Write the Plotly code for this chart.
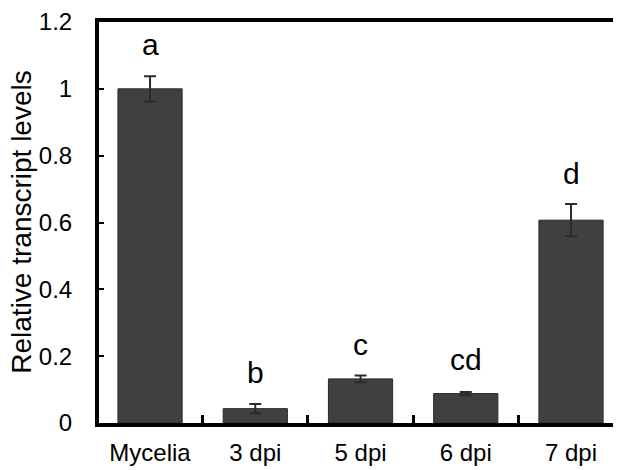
import plotly.graph_objects as go

categories = ["Mycelia", "3 dpi", "5 dpi", "6 dpi", "7 dpi"]
values = [1.0, 0.043, 0.132, 0.088, 0.607]
errors = [0.038, 0.014, 0.010, 0.005, 0.048]
letters = ["a", "b", "c", "cd", "d"]
letter_y = [1.097, 0.118, 0.201, 0.156, 0.713]
y_ticks = [0, 0.2, 0.4, 0.6, 0.8, 1, 1.2]
y_tick_text = ["0", "0.2", "0.4", "0.6", "0.8", "1", "1.2"]

FONT = "Arial, Liberation Sans, sans-serif"

fig = go.Figure()
fig.add_trace(go.Bar(
    x=categories, y=values,
    marker=dict(color="#404040", line=dict(color="#2a2a2a", width=1)),
    error_y=dict(type="data", array=errors, color="#2b2b2b", thickness=2, width=6),
    width=0.61,
    showlegend=False,
))

for c, t, ly in zip(categories, letters, letter_y):
    fig.add_annotation(x=c, y=ly, text=t, showarrow=False, xref="x", yref="y",
                       yanchor="bottom", yshift=-7,
                       font=dict(family=FONT, size=30, color="black"))

fig.add_annotation(xref="paper", yref="paper", x=-0.149, y=0.5, text="Relative transcript levels",
                   textangle=-90, showarrow=False, xanchor="center", yanchor="middle",
                   font=dict(family=FONT, size=28, color="black"))

# page body has an 8px default margin; size the figure so it fills the window
fig.update_layout(
    width=613, height=462,
    margin=dict(l=91, r=0, t=14, b=47, autoexpand=False),
    paper_bgcolor="white", plot_bgcolor="white",
    font=dict(family=FONT, size=24, color="black"),
    xaxis=dict(
        type="category", range=[-0.485, 4.475], automargin=False,
        showline=True, linecolor="black", linewidth=3.5, mirror=True,
        ticks="inside", tickson="boundaries", ticklen=8, tickwidth=3, tickcolor="black",
        showgrid=False, ticklabelstandoff=5,
        tickfont=dict(family=FONT, size=24, color="black"),
    ),
    yaxis=dict(
        range=[0, 1.2], tickvals=y_ticks, ticktext=y_tick_text, automargin=False,
        showline=True, linecolor="black", linewidth=4,
        ticks="inside", ticklen=5, tickwidth=2, tickcolor="black",
        showgrid=False, zeroline=False, ticklabelstandoff=18,
        tickfont=dict(family=FONT, size=24, color="black"),
    ),
)

fig.write_html("out.html")
